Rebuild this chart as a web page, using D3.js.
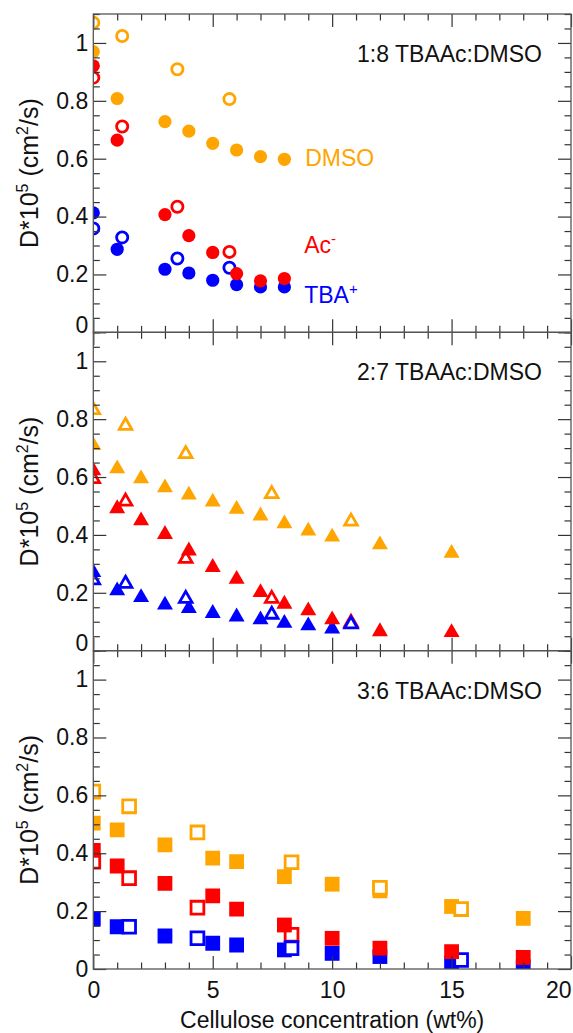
<!DOCTYPE html>
<html><head><meta charset="utf-8">
<script src="https://cdn.jsdelivr.net/npm/d3@7"></script>
<style>body{margin:0;background:#fff}text{font-family:"Liberation Sans",Arial,sans-serif}</style>
</head><body>
<svg id="c" width="573" height="1033"></svg>
<script>
// ---------- data ----------
const xTickLabels = [0, 5, 10, 15, 20];
const yTickLabels = [0, 0.2, 0.4, 0.6, 0.8, 1];
const panelTitles = ["1:8 TBAAc:DMSO", "2:7 TBAAc:DMSO", "3:6 TBAAc:DMSO"];
const seriesNames = ["DMSO", "Ac", "TBA"];

// panel 1 (1:8) – circles
const p1xFilled = [0, 1, 3, 4, 5, 6, 7, 8];
const p1DmsoFilled = [0.97, 0.808, 0.728, 0.695, 0.653, 0.630, 0.607, 0.598];
const p1AcFilled   = [0.921, 0.664, 0.407, 0.334, 0.276, 0.203, 0.178, 0.186];
const p1TbaFilled  = [0.413, 0.287, 0.218, 0.205, 0.180, 0.165, 0.157, 0.157];
const p1xOpen = [0, 1.21, 3.52, 5.7];
const p1DmsoOpen = [1.07, 1.024, 0.909, 0.806];
const p1AcOpen   = [0.880, 0.711, 0.434, 0.278];
const p1TbaOpen  = [0.359, 0.328, 0.255, 0.223];

// panel 2 (2:7) – triangles
const p2xFilled = [0, 1, 2, 3, 4, 5, 6, 7, 8, 9, 10, 12, 15];
const p2DmsoFilled = [0.717, 0.637, 0.602, 0.571, 0.546, 0.522, 0.497, 0.474, 0.447, 0.422, 0.401, 0.374, 0.345];
const p2AcFilled   = [0.630, 0.499, 0.457, 0.410, 0.353, 0.296, 0.255, 0.209, 0.169, 0.146, 0.115, 0.074, 0.071];
const p2TbaFilled  = [0.278, 0.215, 0.192, 0.166, 0.154, 0.137, 0.125, 0.115, 0.103, 0.094, 0.083, null, null];
const p2xOpen = [0, 1.35, 3.87, 7.47, 10.79];
const p2DmsoOpen = [0.838, 0.784, 0.686, 0.548, 0.453];
const p2AcOpen   = [0.600, 0.522, 0.324, 0.186, 0.103];
const p2TbaOpen  = [0.250, 0.238, 0.186, 0.131, 0.098];

// panel 3 (3:6) – squares
const p3xFilled = [0, 1, 3, 5, 6, 8, 10, 12, 15, 18];
const p3DmsoFilled = [0.504, 0.481, 0.429, 0.383, 0.371, 0.319, 0.293, 0.270, 0.216, 0.175];
const p3AcFilled   = [0.410, 0.356, 0.296, 0.253, 0.207, 0.152, 0.106, 0.072, 0.060, 0.040];
const p3TbaFilled  = [0.172, 0.146, 0.114, 0.089, 0.083, 0.066, 0.054, 0.043, 0.020, 0.008];
const p3xOpen = [0, 1.5, 4.36, 8.3, 12, 15.4];
const p3DmsoOpen = [0.613, 0.562, 0.472, 0.369, 0.281, 0.207];
const p3AcOpen   = [0.371, 0.314, 0.212, 0.118, null, null];
const p3TbaOpen  = [null, 0.146, 0.106, 0.072, null, 0.031];

// ---------- layout ----------
const left = 93.3, right = 571, top0 = 14, bottom = 969;
const ph = (bottom - top0) / 3;
const colors = {DMSO: "#FFA500", Ac: "#FF0000", TBA: "#0000FF"};
const FS = 23;

const svg = d3.select("#c");
const x = d3.scaleLinear().domain([0, 20]).range([left, right]);

function pts(xs, ys) {
  return xs.map((v, i) => ({x: v, y: ys[i]})).filter(d => d.y != null);
}

const panels = [
  {shape: "circle",
   filled: {DMSO: pts(p1xFilled, p1DmsoFilled), Ac: pts(p1xFilled, p1AcFilled), TBA: pts(p1xFilled, p1TbaFilled)},
   open:   {DMSO: pts(p1xOpen, p1DmsoOpen),     Ac: pts(p1xOpen, p1AcOpen),     TBA: pts(p1xOpen, p1TbaOpen)}},
  {shape: "triangle",
   filled: {DMSO: pts(p2xFilled, p2DmsoFilled), Ac: pts(p2xFilled, p2AcFilled), TBA: pts(p2xFilled, p2TbaFilled)},
   open:   {DMSO: pts(p2xOpen, p2DmsoOpen),     Ac: pts(p2xOpen, p2AcOpen),     TBA: pts(p2xOpen, p2TbaOpen)}},
  {shape: "square",
   filled: {DMSO: pts(p3xFilled, p3DmsoFilled), Ac: pts(p3xFilled, p3AcFilled), TBA: pts(p3xFilled, p3TbaFilled)},
   open:   {DMSO: pts(p3xOpen, p3DmsoOpen),     Ac: pts(p3xOpen, p3AcOpen),     TBA: pts(p3xOpen, p3TbaOpen)}}
];

function shapePath(shape, open) {
  if (shape === "circle") {
    const r = open ? 5.6 : 6.6;
    return `M${-r},0A${r},${r} 0 1,0 ${r},0A${r},${r} 0 1,0 ${-r},0Z`;
  }
  if (shape === "triangle") {
    const w = open ? 12.6 : 16, h = open ? 11 : 13.8;
    return `M0,${-h/2}L${w/2},${h/2}L${-w/2},${h/2}Z`;
  }
  const s = open ? 12.8 : 14.8;
  return `M${-s/2},${-s/2}H${s/2}V${s/2}H${-s/2}Z`;
}

// draw order
const order = [["TBA", false], ["Ac", true], ["TBA", true], ["Ac", false], ["DMSO", false], ["DMSO", true]];

const majorY = yTickLabels;
const minorY = d3.range(0, 1.1001, 0.05).map(v => +v.toFixed(2)).filter(v => !majorY.some(m => Math.abs(m - v) < 1e-6));
const minorX = d3.range(0, 21, 1).filter(v => !xTickLabels.includes(v));

panels.forEach((p, i) => {
  const pt = top0 + i * ph, pb = pt + ph;
  const y = d3.scaleLinear().domain([0, 1.1]).range([pb, pt]);
  const g = svg.append("g");

  const cid = "clip" + i;
  svg.append("clipPath").attr("id", cid).append("rect")
    .attr("x", left).attr("y", pt).attr("width", right - left).attr("height", ph);

  const mg = g.append("g").attr("clip-path", `url(#${cid})`);
  order.forEach(([name, open]) => {
    const data = open ? p.open[name] : p.filled[name];
    mg.selectAll(null).data(data).enter().append("path")
      .attr("transform", d => `translate(${x(d.x)},${y(d.y)})`)
      .attr("d", shapePath(p.shape, open))
      .attr("fill", open ? "#fff" : colors[name])
      .attr("stroke", open ? colors[name] : "none")
      .attr("stroke-width", open ? 2.8 : 0);
  });

  const styleAxis = sel => {
    sel.select(".domain").remove();
    sel.selectAll(".tick line").attr("stroke", "#333").attr("stroke-width", 1.2);
    sel.selectAll("text").attr("font-size", FS).attr("fill", "#111")
      .attr("font-family", '"Liberation Sans", Arial, sans-serif');
  };
  const la = g.append("g").attr("transform", `translate(${left},0)`)
    .call(d3.axisLeft(y).tickValues(majorY).tickSize(-13).tickPadding(5).tickFormat(d3.format("~g")))
    .call(styleAxis);
  if (i < 2) la.selectAll(".tick").filter(d => d === 0).select("text").attr("dy", "0.0em");
  g.append("g").attr("transform", `translate(${left},0)`)
    .call(d3.axisLeft(y).tickValues(minorY).tickSize(-6.5).tickFormat(""))
    .call(styleAxis);
  g.append("g").attr("transform", `translate(${right},0)`)
    .call(d3.axisRight(y).tickValues(majorY).tickSize(-13).tickFormat(""))
    .call(styleAxis);
  g.append("g").attr("transform", `translate(${right},0)`)
    .call(d3.axisRight(y).tickValues(minorY).tickSize(-6.5).tickFormat(""))
    .call(styleAxis);
  g.append("g").attr("transform", `translate(0,${pt})`)
    .call(d3.axisTop(x).tickValues(xTickLabels).tickSize(-13).tickFormat(""))
    .call(styleAxis);
  g.append("g").attr("transform", `translate(0,${pt})`)
    .call(d3.axisTop(x).tickValues(minorX).tickSize(-6.5).tickFormat(""))
    .call(styleAxis);
  const ba = g.append("g").attr("transform", `translate(0,${pb})`)
    .call(d3.axisBottom(x).tickValues(xTickLabels).tickSize(-13).tickPadding(13)
      .tickFormat(i === 2 ? d3.format("d") : ""))
    .call(styleAxis);
  if (i === 2) ba.selectAll(".tick").filter(d => d === 20).select("text").attr("text-anchor", "end").attr("x", 0);
  g.append("g").attr("transform", `translate(0,${pb})`)
    .call(d3.axisBottom(x).tickValues(minorX).tickSize(-6.5).tickFormat(""))
    .call(styleAxis);

  g.append("rect").attr("x", left).attr("y", pt).attr("width", right - left).attr("height", ph)
    .attr("fill", "none").attr("stroke", "#555").attr("stroke-width", 1.3);

  g.append("text").attr("x", 542).attr("y", pt + 48).attr("text-anchor", "end")
    .attr("font-size", FS).attr("fill", "#111").text(panelTitles[i]);

  const yl = g.append("text")
    .attr("transform", `translate(38,${(pt + pb) / 2}) rotate(-90)`)
    .attr("text-anchor", "middle").attr("font-size", 25).attr("fill", "#111");
  yl.append("tspan").text("D*10");
  yl.append("tspan").attr("font-size", 16).attr("dy", -10).text("5");
  yl.append("tspan").attr("dy", 10).text(" (cm");
  yl.append("tspan").attr("font-size", 16).attr("dy", -10).text("2");
  yl.append("tspan").attr("dy", 10).text("/s)");

  if (i === 0) {
    const lab = (name, xv, yv, sup) => {
      const t = g.append("text").attr("x", x(xv)).attr("y", y(yv))
        .attr("font-size", FS).attr("fill", colors[name]);
      t.append("tspan").text(name);
      if (sup) t.append("tspan").attr("font-size", 15).attr("dy", -9).text(sup);
    };
    lab("DMSO", 8.87, 0.574, null);
    lab("Ac", 8.83, 0.273, "-");
    lab("TBA", 8.83, 0.100, "+");
  }
});

svg.append("text").attr("x", (left + right) / 2).attr("y", 1028).attr("text-anchor", "middle")
  .attr("font-size", FS).attr("fill", "#111").text("Cellulose concentration (wt%)");
</script>
</body></html>
